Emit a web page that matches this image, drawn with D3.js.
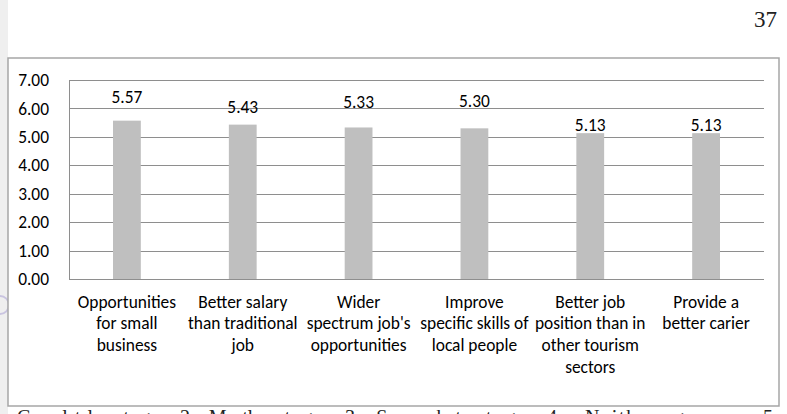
<!DOCTYPE html>
<html>
<head>
<meta charset="utf-8">
<script src="https://cdn.jsdelivr.net/npm/d3@7/dist/d3.min.js"></script>
<style>
  html, body { margin: 0; padding: 0; background: #fff; }
  svg { display: block; }
</style>
</head>
<body>
<svg width="787" height="414"></svg>
<script>
  // chart data
  var categories = [
    ["Opportunities", "for small", "business"],
    ["Better salary", "than traditional", "job"],
    ["Wider", "spectrum job's", "opportunities"],
    ["Improve", "specific skills of", "local people"],
    ["Better job", "position than in", "other tourism", "sectors"],
    ["Provide a", "better carier"]
  ];
  var values = [5.57, 5.43, 5.33, 5.30, 5.13, 5.13];
  var yTicks = [0, 1, 2, 3, 4, 5, 6, 7];
  // how far above the bar top each value label sits (px, as in the original)
  var labelLift = [18, 12, 19.5, 21, 2, 2];

  var svg = d3.select("svg");
  var width = +svg.attr("width");
  var height = +svg.attr("height");
  var font = "Carlito, Lato, sans-serif";
  var fs = 17.4;

  // page bits around the chart (scanned page)
  svg.append("rect").attr("x", 0).attr("y", 0).attr("width", 8).attr("height", height).attr("fill", "#efefef");
  svg.append("circle").attr("cx", 0).attr("cy", 305).attr("r", 9)
    .attr("fill", "none").attr("stroke", "#c9c4e0").attr("stroke-width", 2);

  svg.append("text")
    .attr("x", 777).attr("y", 27)
    .attr("text-anchor", "end")
    .attr("font-family", "'Liberation Serif', 'Times New Roman', serif")
    .attr("font-size", 23)
    .attr("fill", "#222")
    .text("37");

  var footer = [
    { x: 17, w: 155, t: "Completely not agree" },
    { x: 180, w: 155, t: "2 = Mostly not agree" },
    { x: 345, w: 195, t: "3 = Somewhat not agree" },
    { x: 547, w: 205, t: "4 = Neither agree nor" },
    { x: 763, w: 12, t: "5" }
  ];
  svg.selectAll("text.foot")
    .data(footer)
    .enter()
    .append("text")
    .attr("class", "foot")
    .attr("x", function (d) { return d.x; })
    .attr("y", 424)
    .attr("textLength", function (d) { return d.w; })
    .attr("lengthAdjust", "spacing")
    .attr("font-family", "'Liberation Serif', 'Times New Roman', serif")
    .attr("font-size", 20)
    .attr("fill", "#222")
    .text(function (d) { return d.t; });

  // chart frame
  svg.append("rect")
    .attr("x", 8).attr("y", 58)
    .attr("width", 771).attr("height", 348)
    .attr("fill", "#fff")
    .attr("stroke", "#a6a6a6")
    .attr("stroke-width", 1.5);

  var margin = { top: 80, left: 69, right: 23, bottom: 135 };
  var innerWidth = width - margin.left - margin.right;
  var innerHeight = height - margin.top - margin.bottom;

  var xScale = d3.scaleBand()
    .domain(d3.range(values.length))
    .range([0, innerWidth])
    .paddingInner(0.76)
    .paddingOuter(0.38);

  var yScale = d3.scaleLinear()
    .domain([0, 7])
    .range([innerHeight, 0]);

  var g = svg.append("g")
    .attr("transform", "translate(" + margin.left + "," + margin.top + ")");

  // gridlines
  g.selectAll("line.grid")
    .data(yTicks)
    .enter()
    .append("line")
    .attr("class", "grid")
    .attr("x1", 0).attr("x2", innerWidth)
    .attr("y1", function (d) { return Math.round(yScale(d)) + 0.5; })
    .attr("y2", function (d) { return Math.round(yScale(d)) + 0.5; })
    .attr("stroke", "#8e8e8e")
    .attr("stroke-width", 1);

  var yAxis = d3.axisLeft(yScale)
    .tickValues(yTicks)
    .tickFormat(d3.format(".2f"))
    .tickSize(0)
    .tickPadding(20);

  var yG = g.append("g").call(yAxis);
  yG.select(".domain").attr("stroke", "#8e8e8e");
  yG.selectAll("text")
    .attr("font-family", font)
    .attr("font-size", fs)
    .attr("fill", "#000");

  // bars
  g.selectAll("rect.bar")
    .data(values)
    .enter()
    .append("rect")
    .attr("class", "bar")
    .attr("x", function (d, i) { return xScale(i); })
    .attr("y", function (d) { return yScale(d); })
    .attr("width", xScale.bandwidth())
    .attr("height", function (d) { return innerHeight - yScale(d); })
    .attr("fill", "#bfbfbf");

  // value labels
  g.selectAll("text.val")
    .data(values)
    .enter()
    .append("text")
    .attr("class", "val")
    .attr("x", function (d, i) { return xScale(i) + xScale.bandwidth() / 2; })
    .attr("y", function (d, i) { return yScale(d) - labelLift[i]; })
    .attr("text-anchor", "middle")
    .attr("font-family", font)
    .attr("font-size", fs)
    .attr("fill", "#000")
    .text(function (d) { return d.toFixed(2); });

  // category labels
  var cat = g.selectAll("text.cat")
    .data(categories)
    .enter()
    .append("text")
    .attr("class", "cat")
    .attr("text-anchor", "middle")
    .attr("font-family", font)
    .attr("font-size", fs)
    .attr("fill", "#000")
    .attr("transform", function (d, i) {
      return "translate(" + (xScale(i) + xScale.bandwidth() / 2) + "," + (innerHeight + 28.7) + ")";
    });

  cat.selectAll("tspan")
    .data(function (d) { return d; })
    .enter()
    .append("tspan")
    .attr("x", 0)
    .attr("y", function (d, j) { return j * 21.7; })
    .text(function (d) { return d; });
</script>
</body>
</html>
